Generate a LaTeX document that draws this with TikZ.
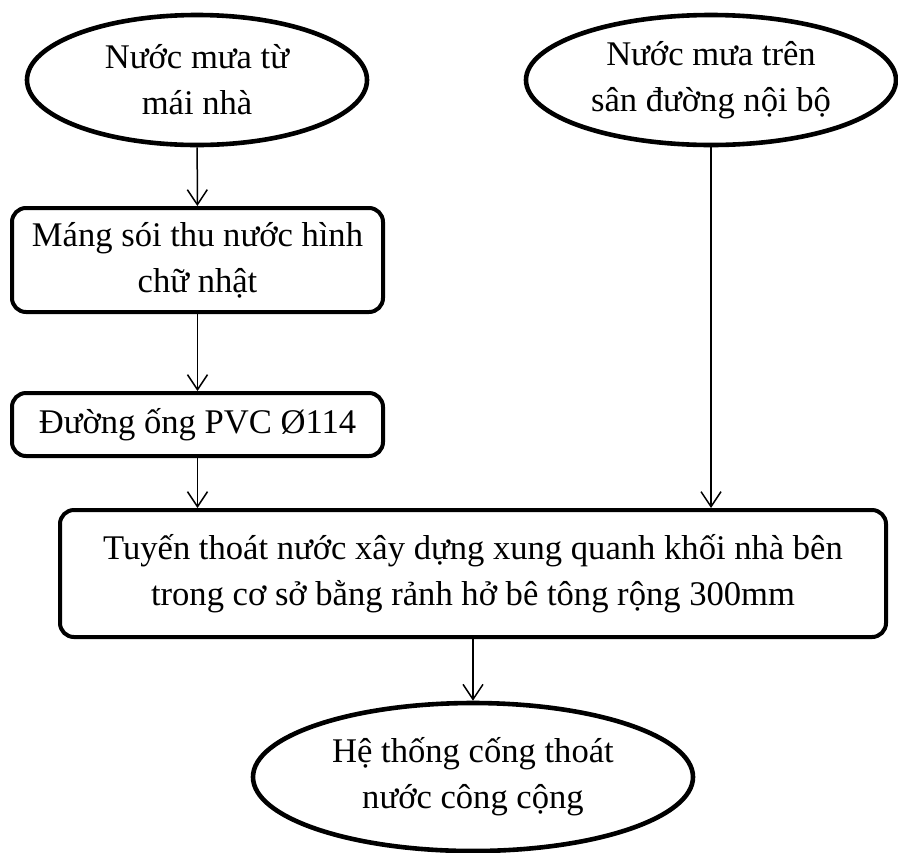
\documentclass[tikz,border=0pt]{standalone}
\usepackage{fontspec}
\setmainfont{Liberation Serif}
\usetikzlibrary{shapes.geometric, arrows.meta}

\begin{document}
\begin{tikzpicture}[x=0.5pt, y=-0.5pt,
        every node/.style={font=\fontsize{17.3}{23}\selectfont, align=center, inner sep=0pt},
        oval/.style={ellipse, draw, line width=2.3pt},
        box/.style={rectangle, rounded corners=7pt, draw, line width=2pt},
        arr/.style={-{Straight Barb[length=7.5pt, width=10pt]}, line width=0.75pt}]
        \useasboundingbox (0,0) rectangle (898,852);
        \node[oval, minimum width=170pt, minimum height=65pt] (roof) at (197,80) {Nước mưa từ\\mái nhà};
        \node[oval, minimum width=185pt, minimum height=65pt] (yard) at (711,80) {Nước mưa trên\\sân đường nội bộ};
        \node[box, minimum width=185.5pt, minimum height=52pt] (gutter) at (197.5,260) {Máng sói thu nước hình\\chữ nhật};
        \node[box, minimum width=185.5pt, minimum height=31.5pt] (pipe) at (197.5,424.5) {Đường ống PVC Ø114};
        \node[box, minimum width=413pt, minimum height=63.5pt] (ditch) at (473,573.5) {Tuyến thoát nước xây dựng xung quanh khối nhà bên\\trong cơ sở bằng rảnh hở bê tông rộng 300mm};
        \node[oval, minimum width=220pt, minimum height=74pt] (sewer) at (473,777) {Hệ thống cống thoát\\nước công cộng};
        \draw[arr] (roof) -- (gutter);
        \draw[arr] (gutter) -- (pipe);
        \draw[arr] (pipe.south) -- (pipe.south |- ditch.north);
        \draw[arr] (yard.south) -- (yard.south |- ditch.north);
        \draw[arr] (ditch) -- (sewer);
    \end{tikzpicture}
\end{document}
